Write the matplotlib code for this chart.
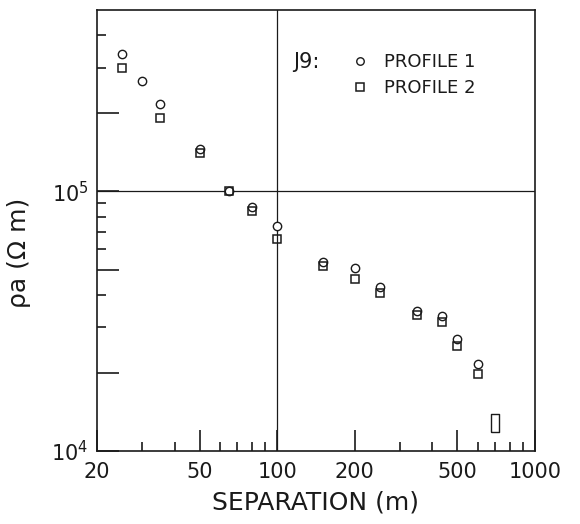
"""
Resistividad aparente J9, perfiles 1 y 2 (log-log)
"""
import numpy as np
import matplotlib
matplotlib.use('Agg')
import matplotlib.pyplot as plt
from matplotlib.ticker import FixedLocator, NullFormatter

#Datos --------------------------------
sep1 = [25, 30, 35, 50, 65, 80, 100, 150, 200, 250, 350, 435, 500, 600]
rho1 = [3.39e5, 2.67e5, 2.17e5, 1.46e5, 1.0e5, 8.7e4, 7.33e4, 5.33e4,
        5.05e4, 4.28e4, 3.45e4, 3.3e4, 2.71e4, 2.17e4]

sep2 = [25, 35, 50, 65, 80, 100, 150, 200, 250, 350, 435, 500, 600]
rho2 = [3.0e5, 1.92e5, 1.41e5, 1.0e5, 8.4e4, 6.58e4, 5.15e4, 4.59e4,
        4.05e4, 3.33e4, 3.13e4, 2.54e4, 1.98e4]

#punto alargado (rectangulo) del perfil 2
sep_rect = [700]
rho_rect = [1.28e4]

xticks_major = [20, 50, 100, 200, 500, 1000]
xtick_labels = ['20', '50', '100', '200', '500', '1000']
xticks_minor = [30, 40, 60, 70, 80, 90, 300, 400, 600, 700, 800, 900]

yticks_major = [1e4, 2e4, 5e4, 1e5, 2e5]
ytick_labels = ['$10^4$', '', '', '$10^5$', '']
yticks_minor = [3e4, 4e4, 6e4, 7e4, 8e4, 9e4, 3e5, 4e5]

#Grafico ------------------------------
ink = '#1a1a1a'
plt.rcParams['font.family'] = ['DejaVu Sans']
plt.rcParams['mathtext.default'] = 'regular'

fig = plt.figure(figsize=(5.8, 5.24), dpi=100)
ax = fig.add_axes([97/580, 73/524, 438/580, 441/524])
ax.set_xscale('log')
ax.set_yscale('log')
ax.set_xlim(20, 1000)
ax.set_ylim(1e4, 5e5)

ax.axhline(1e5, color=ink, lw=0.9, zorder=1)
ax.axvline(100, color=ink, lw=0.9, zorder=1)

ax.plot(sep1, rho1, 'o', ms=6, mfc='white', mec=ink, mew=1.0,
        label='PROFILE 1', zorder=3)
ax.plot(sep2, rho2, 's', ms=5.8, mfc='none', mec=ink, mew=1.1,
        label='PROFILE 2', zorder=4)
rect = [(-0.45, -1), (0.45, -1), (0.45, 1), (-0.45, 1), (-0.45, -1)]
ax.plot(sep_rect, rho_rect, marker=rect, ms=13, ls='none', mfc='white',
        mec=ink, mew=1.0, zorder=4)

ax.xaxis.set_major_locator(FixedLocator(xticks_major))
ax.set_xticklabels(xtick_labels)
ax.xaxis.set_minor_locator(FixedLocator(xticks_minor))
ax.xaxis.set_minor_formatter(NullFormatter())
ax.yaxis.set_major_locator(FixedLocator(yticks_major))
ax.set_yticklabels(ytick_labels)
ax.yaxis.set_minor_locator(FixedLocator(yticks_minor))
ax.yaxis.set_minor_formatter(NullFormatter())

ax.tick_params(which='major', direction='in', length=15, width=1.2,
               labelsize=15, colors=ink, pad=8)
ax.tick_params(which='minor', direction='in', length=6.5, width=1.2,
               colors=ink)
ax.tick_params(axis='y', which='major', length=16, pad=6)

for s in ax.spines.values():
    s.set_linewidth(1.2)
    s.set_color(ink)

ax.set_xlabel('SEPARATION (m)', fontsize=18, color=ink, labelpad=6)
ax.set_ylabel('ρa (Ω m)', fontsize=18, color=ink)
ax.yaxis.set_label_coords(-0.15, 0.45)

fig.text(293/580, 1 - 62/524, 'J9:', fontsize=15, color=ink, va='center')
ax.legend(loc='upper left', bbox_to_anchor=(351/580, 1 - 53/524),
          bbox_transform=fig.transFigure, frameon=False, fontsize=13,
          handlelength=1.0, handletextpad=0.8, labelspacing=0.45,
          borderpad=0, borderaxespad=0, labelcolor=ink, markerscale=0.9)

plt.savefig('out.png', dpi=100)
